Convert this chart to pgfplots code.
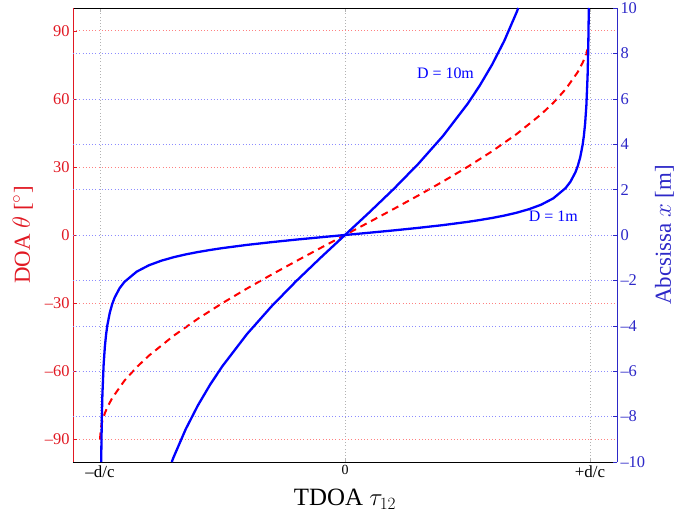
\documentclass[border=0pt]{standalone}
\usepackage{pgfplots}
\pgfplotsset{compat=1.18}
\usepackage{fontspec}
\setmainfont{Liberation Serif}
\definecolor{tickblue}{RGB}{45,40,200}
\definecolor{tickred}{RGB}{225,25,35}

% theta = asin(tau) in degrees, tau in units of d/c
\pgfplotstableread{
tau theta
-1.000 -90.00
-0.995 -84.27
-0.990 -81.89
-0.980 -78.52
-0.970 -75.93
-0.950 -71.81
-0.900 -64.16
-0.850 -58.21
-0.800 -53.13
-0.700 -44.43
-0.600 -36.87
-0.500 -30.00
-0.400 -23.58
-0.300 -17.46
-0.200 -11.54
-0.100 -5.74
0.000 0.00
0.100 5.74
0.200 11.54
0.300 17.46
0.400 23.58
0.500 30.00
0.600 36.87
0.700 44.43
0.800 53.13
0.850 58.21
0.900 64.16
0.950 71.81
0.970 75.93
0.980 78.52
0.990 81.89
}\doa

% abscissa for a source at distance D = 10 m
\pgfplotstableread{
tau x
-0.7071 -10.000
-0.700 -9.802
-0.650 -8.554
-0.600 -7.500
-0.550 -6.585
-0.500 -5.774
-0.400 -4.364
-0.300 -3.145
-0.200 -2.041
-0.100 -1.005
0.000 0.000
0.100 1.005
0.200 2.041
0.300 3.145
0.400 4.364
0.500 5.774
0.550 6.585
0.600 7.500
0.650 8.554
0.700 9.802
0.7071 10.000
}\dten

% abscissa for a source at distance D = 1 m
\pgfplotstableread{
tau x
-0.99504 -10.000
-0.9950 -9.963
-0.9925 -8.119
-0.9900 -7.018
-0.9850 -5.709
-0.9800 -4.925
-0.9750 -4.388
-0.9700 -3.990
-0.9600 -3.429
-0.9500 -3.042
-0.9400 -2.755
-0.9200 -2.347
-0.9000 -2.065
-0.8500 -1.614
-0.8000 -1.333
-0.7500 -1.134
-0.7000 -0.980
-0.6500 -0.855
-0.6000 -0.750
-0.5500 -0.659
-0.5000 -0.577
-0.4000 -0.436
-0.3000 -0.315
-0.2000 -0.204
-0.1000 -0.101
0.0000 0.000
0.1000 0.101
0.2000 0.204
0.3000 0.315
0.4000 0.436
0.5000 0.577
0.5500 0.659
0.6000 0.750
0.6500 0.855
0.7000 0.980
0.7500 1.134
0.8000 1.333
0.8500 1.614
0.9000 2.065
0.9200 2.347
0.9400 2.755
0.9500 3.042
0.9600 3.429
0.9700 3.990
0.9750 4.388
0.9800 4.925
0.9850 5.709
0.9900 7.018
0.9925 8.119
0.9950 9.963
0.99504 10.000
}\done

\begin{document}
\begin{tikzpicture}
\pgfplotsset{
  every axis/.append style={
    width=544bp, height=454bp, scale only axis,
    xmin=-1.11, xmax=1.11,
    yticklabel style={font=\fontsize{16.5}{18}\selectfont},
    xticklabel style={font=\fontsize{17}{19}\selectfont},
  },
}
\begin{axis}[
  name=ax,
  axis x line=box, axis y line*=left,
  ymin=-100, ymax=100,
  ytick={-90,-60,-30,0,30,60,90},
  yticklabels={\textendash90,\textendash60,\textendash30,0,30,60,90},
  xtick={-1,0,1},
  xticklabels={\textendash d/c,\raisebox{1bp}{\fontsize{14}{15}\selectfont 0},+d/c},
  yticklabel style={text=tickred},
  y axis line style={tickred, line width=0.8pt},
  x axis line style={black, line width=0.8pt},
  ytick style={tickred},
  xtick style={gray!60},
  xmajorgrids, ymajorgrids,
  x grid style={gray!60, line width=0.5pt, dash pattern=on 0.6bp off 2.6bp},
  y grid style={red!50, line width=0.5pt, dash pattern=on 0.6bp off 2.6bp},
  xlabel={TDOA $\tau_{12}$},
  ylabel={DOA $\theta$ [$^\circ$]},
  ylabel style={text=tickred, font=\fontsize{23}{25}\selectfont, yshift=5bp},
  xlabel style={font=\fontsize{25}{27}\selectfont, yshift=-5bp},
]
\addplot[red, dash pattern=on 7bp off 5bp, line width=2bp] table[x=tau, y=theta] {\doa};
\end{axis}
\begin{axis}[
  axis x line=none, axis y line*=right,
  ymin=-10, ymax=10,
  ytick={-8,-6,...,8},
  yticklabels={\textendash8,\textendash6,\textendash4,\textendash2,0,2,4,6,8},
  extra y ticks={-10,10},
  extra y tick labels={\textendash10,10},
  extra y tick style={grid=none},
  yticklabel style={text=tickblue},
  y axis line style={tickblue, line width=0.8pt},
  ytick style={tickblue},
  ymajorgrids,
  y grid style={blue!45, line width=0.5pt, dash pattern=on 0.6bp off 2.6bp},
  ylabel={Abcsissa $x$ [m]},
  ylabel style={text=tickblue, font=\fontsize{23}{25}\selectfont, yshift=-3bp},
]
\addplot[blue, line width=2.3bp] table[x=tau, y=x] {\dten};
\addplot[blue, line width=2.3bp] table[x=tau, y=x] {\done};
\node[text=blue, font=\fontsize{16}{18}\selectfont] at (axis cs:0.41,7.14) {D = 10m};
\node[text=blue, font=\fontsize{16}{18}\selectfont] at (axis cs:0.85,0.84) {D = 1m};
\end{axis}
\pgfresetboundingbox
\path ([shift={(-73bp,-54bp)}]ax.south west) rectangle ([shift={(61bp,8bp)}]ax.north east);
\end{tikzpicture}
\end{document}
